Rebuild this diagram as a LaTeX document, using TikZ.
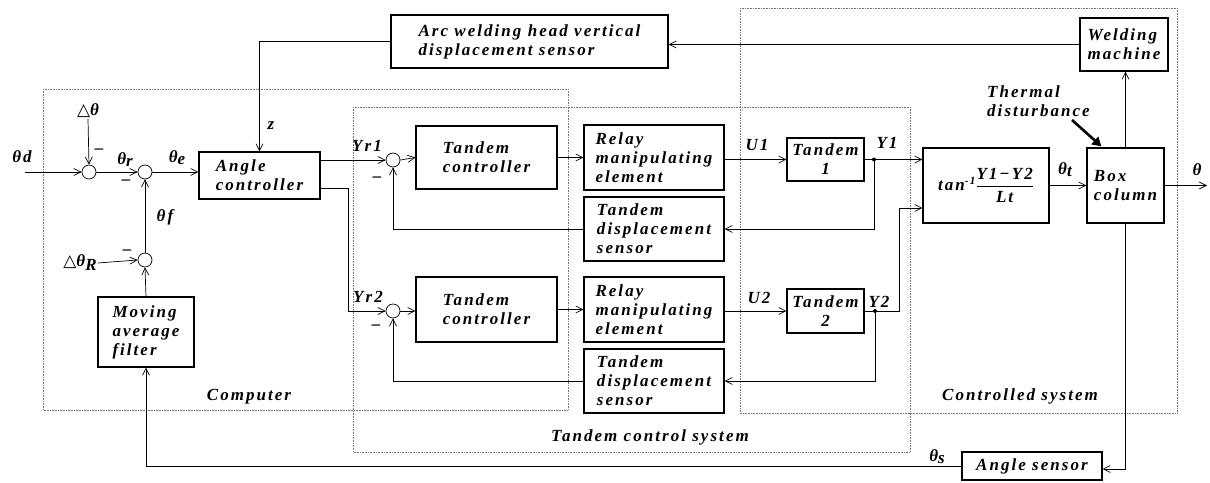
\documentclass[tikz,border=0pt]{standalone}
\usepackage{fontspec}
\setmainfont{Liberation Serif}
\newfontfamily\labfont[LetterSpace=12]{Liberation Serif}
\newfontfamily\symfont{DejaVu Sans}
\usetikzlibrary{arrows.meta,calc}
\newcommand{\lw}[1]{\raisebox{-2pt}{#1}}
\begin{document}
\begin{tikzpicture}[x=1pt,y=-1pt,
  lab/.style={font=\labfont\bfseries\itshape\fontsize{17}{19}\selectfont, inner sep=1pt},
  blk/.style={draw, line width=1.1pt, inner sep=2pt, align=left, lab},
  wire/.style={line width=0.7pt, -{Straight Barb[length=7pt,width=7pt]}},
  sumn/.style={circle, draw, line width=0.7pt, minimum size=14pt, inner sep=0pt},
  zone/.style={draw=black!55, densely dotted, line width=0.6pt},
  jdot/.style={circle, fill, inner sep=0pt, minimum size=4pt}]
\useasboundingbox (0,0) rectangle (1210,482);

% zones
\draw[zone] (43,89) rectangle (568,410);
\draw[zone] (353,107) rectangle (910,452);
\draw[zone] (740,8) rectangle (1177,413);
\node[lab] (lcomp) at (249,397) {Computer};
\node[lab] (ltcs) at (650,437) {Tandem control system};
\node[lab] (lcs) at (1020,396) {Controlled system};

% blocks
\node[blk, minimum width=277pt, minimum height=53pt] (arc) at (529.5,41.5) {Arc welding head vertical\\ displacement sensor};
\node[blk, minimum width=88pt, minimum height=53pt] (wm) at (1124,44.5) {Welding\\machine};
\node[blk, minimum width=121pt, minimum height=47pt] (ac) at (259.5,175.5) {Angle\\controller};
\node[blk, minimum width=96pt, minimum height=70pt] (maf) at (146,332) {Moving\\average\\filter};
\node[blk, minimum width=141pt, minimum height=63pt] (tc1) at (486.5,157.5) {Tandem\\controller};
\node[blk, minimum width=141pt, minimum height=65pt] (tc2) at (486.5,309.5) {Tandem\\controller};
\node[blk, minimum width=140pt, minimum height=65pt] (rl1) at (654,157.5) {Relay\\manipulating\\element};
\node[blk, minimum width=140pt, minimum height=65pt] (rl2) at (654,309.5) {Relay\\manipulating\\element};
\node[blk, minimum width=140pt, minimum height=64pt] (ds1) at (654,229) {Tandem\\displacement\\sensor};
\node[blk, minimum width=140pt, minimum height=64pt] (ds2) at (654,381) {Tandem\\displacement\\sensor};
\node[blk, align=center, minimum width=77pt, minimum height=43pt] (t1) at (825.5,159.5) {Tandem\\1};
\node[blk, align=center, minimum width=77pt, minimum height=44pt] (t2) at (825.5,311) {Tandem\\2};
\node[blk, minimum width=126pt, minimum height=75pt] (tan) at (986,185.5)
  {tan\raisebox{6pt}{\fontsize{11}{11}\selectfont -1}$\displaystyle\frac{\hbox{Y1−Y2}}{\hbox{Lt}}$};
\node[blk, minimum width=77pt, minimum height=75pt] (bc) at (1125.5,185.5) {Box\\column};
\node[blk, minimum width=140pt, minimum height=28pt] (as) at (1032,466) {Angle sensor};

% summing junctions
\node[sumn] (s1) at (89,172) {};
\node[sumn] (s2) at (145,172) {};
\node[sumn] (s3) at (145,260) {};
\node[sumn] (s4) at (393,160) {};
\node[sumn] (s5) at (393,311) {};

% labels
\node[lab] (lthd) at (22,157) {θd};
\node[lab] (ldth) at (88,111) {{\symfont\mdseries △}θ};
\node[lab] (lthr) at (125,160) {θ\lw{r}};
\node[lab] (lthe) at (177,158) {θ\lw{e}};
\node[lab] (lthf) at (165,217) {θf};
\node[lab] (ldthr) at (80,263) {{\symfont\mdseries △}θ\raisebox{-4pt}{R}};
\node[lab] (m1) at (99,151) {–};
\node[lab] (m2) at (126,182) {–};
\node[lab] (m3) at (127,252) {–};
\node[lab] (m4) at (377,179) {–};
\node[lab] (m5) at (376,327) {–};
\node[lab] (lz) at (271,126) {z};
\node[lab] (lyr1) at (367,146) {Yr1};
\node[lab] (lyr2) at (368,297) {Yr2};
\node[lab] (lu1) at (757,145) {U1};
\node[lab] (lu2) at (759,298) {U2};
\node[lab] (ly1) at (887,143) {Y1};
\node[lab] (ly2) at (879,302) {Y2};
\node[lab] (ltht) at (1065,170) {θ\lw{t}};
\node[lab] (lth) at (1197,170) {θ};
\node[lab] (lths) at (937,457) {θ\lw{s}};
\node[lab, align=left, anchor=west] (lthd2) at (986,101) {Thermal\\disturbance};

% junction dots
\node[jdot] (y1) at (874,159.5) {};
\node[jdot] (y2) at (875,311) {};

% free ends
\coordinate (thin) at (25,172);
\coordinate (thout) at (1207,185.5);
\coordinate (thtail) at (1072,120);

% connectors
\draw[wire] (thin) -- (s1.west);
\draw[wire] (ldth.south) -- (s1.north);
\draw[wire] (s1.east) -- (s2.west);
\draw[wire] (s2.east) -- (s2.east -| ac.west);
\draw[wire] (s3.north) -- (s2.south);
\draw[wire] (ldthr.east) -- (s3.west);
\draw[wire] (maf.north) -- (s3.south);
\draw[wire] (as.west) -| (maf.south);
\draw[wire] (arc.west) -| (ac.north);
\draw[wire] (wm.west) -- (wm.west -| arc.east);
\draw[wire] (ac.east |- s4.west) -- (s4.west);
\draw[wire] ([yshift=-12.5pt]ac.east) -- ++(28,0) |- (s5.west);
\draw[wire] (s4.east) -- (tc1.west);
\draw[wire] (s5.east) -- (s5.east -| tc2.west);
\draw[wire] (tc1.east) -- (rl1.west);
\draw[wire] (tc2.east) -- (rl2.west);
\draw[wire] (rl1.east |- t1.west) -- (t1.west);
\draw[wire] (rl2.east |- t2.west) -- (t2.west);
\draw[wire] (t1.east) -- (tan.west |- t1.east);
\draw[wire] (t2.east) -- ++(35,0) |- ($(tan.west)+(0,22.5)$);
\draw[wire] (y1.center) |- (ds1.east);
\draw[wire] (y2.center) |- (ds2.east);
\draw[wire] (ds1.west) -| (s4.south);
\draw[wire] (ds2.west) -| (s5.south);
\draw[wire] (tan.east) -- (bc.west);
\draw[wire] (bc.east) -- (thout);
\draw[wire] (bc.north) -- (bc.north |- wm.south);
\draw[wire] (bc.south) |- ([yshift=-3pt]as.east);
\draw[line width=2.6pt, -{Triangle[length=9pt,width=10pt]}] (thtail) -- ($(bc.north west)+(15,-1)$);
\end{tikzpicture}
\end{document}
